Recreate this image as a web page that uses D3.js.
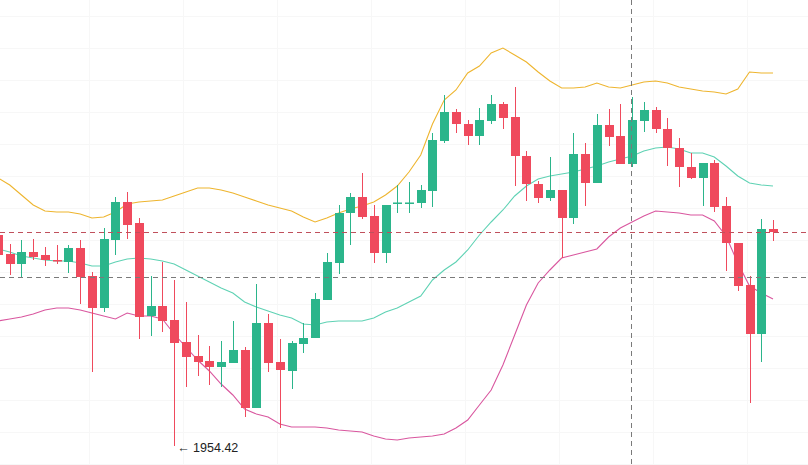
<!DOCTYPE html>
<html>
<head>
<meta charset="utf-8">
<script src="https://cdn.jsdelivr.net/npm/d3@7"></script>
<style>
  html, body { margin: 0; padding: 0; background: #ffffff; }
  svg { display: block; }
</style>
</head>
<body>
<svg id="chart" width="808" height="465"></svg>
<script>
// ---- data (prices) ----
const opens  = [2007.17,2002.42,1999.92,2002.92,2002.17,2000.92,2000.42,2003.92,1996.92,1988.92,
                2005.92,2015.42,2010.17,1986.92,1989.42,1985.92,1980.42,1976.92,1975.67,1974.17,
                1975.17,1978.42,1963.92,1985.17,1975.42,1973.17,1979.92,1981.42,1990.92,2000.17,
                2012.67,2016.67,2011.92,2002.67,2015.05,2015.05,2015.17,2018.17,2030.67,2037.92,
                2034.92,2031.92,2035.67,2039.92,2036.67,2026.92,2019.92,2016.42,2018.42,2011.42,
                2027.42,2020.17,2034.67,2031.92,2024.92,2035.67,2038.42,2033.67,2028.92,2024.17,
                2021.42,2025.17,2014.42,2005.17,1994.67,1982.42,2008.67];
const highs  = [2007.92,2004.92,2005.92,2006.17,2004.17,2004.67,2004.67,2005.92,1997.92,2008.92,
                2016.67,2017.92,2011.42,1996.92,2000.42,1995.92,1990.42,1982.17,1979.42,1980.67,
                1985.67,1979.17,1994.92,1987.42,1981.17,1980.67,1985.17,1992.67,2002.67,2014.67,
                2017.67,2022.67,2014.67,2014.67,2019.67,2020.42,2019.67,2032.67,2042.17,2038.67,
                2035.92,2038.92,2042.17,2040.42,2044.17,2028.17,2020.67,2026.67,2018.42,2032.67,
                2030.17,2037.42,2038.67,2039.92,2041.67,2040.42,2039.17,2036.42,2031.42,2027.67,
                2025.17,2025.92,2016.67,2005.17,1996.92,2011.17,2010.92];
const lows   = [2000.42,1997.17,1996.42,2000.92,1999.42,1999.92,1997.67,1989.92,1972.92,1987.92,
                2002.17,2006.17,1981.17,1981.92,1982.92,1954.42,1969.17,1971.92,1969.67,1969.17,
                1975.17,1961.67,1963.92,1972.92,1958.92,1968.67,1977.67,1981.42,1990.92,1997.42,
                2004.67,2011.17,2000.17,2000.17,2012.67,2012.67,2013.92,2014.17,2030.17,2032.67,
                2029.67,2029.67,2034.92,2033.67,2019.42,2015.67,2015.17,2015.67,2001.42,2009.92,
                2014.42,2020.17,2029.42,2024.92,2024.17,2032.92,2032.67,2024.42,2019.17,2021.17,
                2014.42,2012.92,1998.17,1993.17,1965.17,1975.42,2005.67];
const closes = [2002.17,1999.92,2002.92,2001.67,2000.92,2000.67,2003.92,1996.67,1988.92,2006.17,
                2015.42,2009.67,1986.67,1989.42,1985.67,1980.17,1976.67,1975.42,1974.17,1975.42,
                1978.42,1963.92,1985.17,1975.17,1973.42,1980.17,1981.42,1991.17,2000.42,2012.67,
                2016.67,2011.67,2002.67,2014.67,2015.30,2015.30,2018.42,2030.92,2037.92,2034.92,
                2031.92,2035.92,2039.92,2036.42,2026.92,2019.92,2016.42,2018.42,2011.42,2027.42,
                2020.17,2034.67,2031.67,2024.92,2035.92,2038.42,2033.67,2028.92,2024.17,2021.42,
                2025.17,2014.17,2005.17,1994.42,1982.42,2008.67,2007.92];

// Bollinger bands
const bollUpper = [2021.42,2019.67,2017.17,2014.67,2013.17,2012.92,2012.92,2012.42,2011.42,2011.67,
                   2012.92,2014.92,2015.42,2015.67,2015.92,2016.92,2017.92,2018.92,2018.92,2018.42,
                   2017.67,2016.67,2015.67,2014.67,2013.92,2013.17,2011.67,2010.42,2011.42,2012.67,
                   2013.67,2014.42,2015.42,2017.17,2019.42,2022.92,2027.17,2034.92,2040.92,2043.42,
                   2047.67,2049.42,2052.67,2053.92,2052.17,2050.42,2047.92,2045.67,2043.92,2043.92,
                   2044.17,2045.17,2044.17,2043.92,2044.67,2045.42,2045.67,2045.17,2044.17,2043.67,
                   2043.17,2042.92,2042.42,2043.67,2047.92,2047.67,2047.67];
const bollMid   = [2003.67,2002.92,2001.92,2001.42,2000.92,2000.67,2000.67,2000.17,1999.42,1999.42,
                   2000.42,2001.17,2001.42,2001.17,2000.67,1999.92,1998.42,1996.92,1995.42,1993.92,
                   1992.67,1990.42,1989.17,1988.17,1987.17,1986.42,1984.92,1984.67,1985.42,1985.67,
                   1985.67,1985.67,1986.42,1987.92,1988.92,1990.42,1991.92,1995.92,1998.42,2000.42,
                   2003.42,2007.17,2010.42,2013.42,2016.92,2019.42,2021.17,2021.92,2022.42,2022.92,
                   2023.67,2024.42,2025.42,2026.17,2026.92,2028.17,2028.92,2029.17,2028.67,2027.67,
                   2027.67,2026.67,2024.42,2021.92,2020.17,2019.67,2019.42];
const bollLower = [1985.67,1986.17,1986.67,1987.42,1988.42,1988.92,1988.92,1988.42,1987.67,1986.92,
                   1986.17,1987.67,1986.92,1986.92,1986.17,1982.42,1979.17,1975.92,1973.17,1969.92,
                   1967.17,1963.67,1962.42,1961.67,1959.92,1959.17,1959.17,1959.17,1958.92,1958.42,
                   1958.17,1957.92,1956.92,1956.17,1955.92,1956.42,1956.67,1956.92,1957.42,1958.92,
                   1960.92,1964.67,1968.42,1974.67,1982.17,1989.67,1995.17,1998.42,2001.42,2002.17,
                   2002.92,2003.67,2006.67,2008.92,2010.42,2011.92,2013.17,2012.92,2012.67,2012.17,
                   2012.17,2010.67,2006.92,2000.17,1994.42,1992.67,1991.17];

const gridPrices  = [2062, 2054, 2046, 2038, 2030, 2022, 2014, 2006, 1998, 1990, 1982, 1974, 1966, 1958, 1950];
const gridCandles = [8, 16, 24, 32, 40, 48, 56, 64];
const lastPrice   = 2007.92;
const crossPrice  = 1996.67;
const crossIndex  = 54;
const lowLabel    = "\u2190 1954.42";
const lowIndex    = 15;
const lowPrice    = 1954.42;

// ---- drawing ----
const W = 808, H = 465;
const idx = d3.range(opens.length);
const candles = idx.map(i => ({ i, o: opens[i], h: highs[i], l: lows[i], c: closes[i] }));

const svg = d3.select("#chart");
const x = d3.scalePoint().domain(idx).range([-2, 773]);
const step = x.step();
const y = d3.scaleLinear().domain([1949.67, 2065.92]).range([H, 0]);

const UP = "#2bb58b", DOWN = "#ef4a5d";
const bodyW = 9;

// grid (very faint)
svg.append("g").selectAll("line.h").data(gridPrices).join("line")
  .attr("x1", 0).attr("x2", W)
  .attr("y1", d => Math.round(y(d)) + 0.5).attr("y2", d => Math.round(y(d)) + 0.5)
  .attr("stroke", "#f7f7f7").attr("stroke-width", 1);
svg.append("g").selectAll("line.v").data(gridCandles).join("line")
  .attr("x1", d => Math.round(x(d) - step * 0.25) + 0.5).attr("x2", d => Math.round(x(d) - step * 0.25) + 0.5)
  .attr("y1", 0).attr("y2", H)
  .attr("stroke", "#f7f7f7").attr("stroke-width", 1);

// Bollinger lines
const lineGen = arr => d3.line().x((d, i) => x(i)).y(d => y(d)).curve(d3.curveLinear)(arr);
svg.append("path").attr("d", lineGen(bollUpper)).attr("fill", "none").attr("stroke", "#eeb52f").attr("stroke-width", 1.1);
svg.append("path").attr("d", lineGen(bollMid)).attr("fill", "none").attr("stroke", "#5fd2b4").attr("stroke-width", 1.1);
svg.append("path").attr("d", lineGen(bollLower)).attr("fill", "none").attr("stroke", "#d9579f").attr("stroke-width", 1.1);

// candles
const g = svg.append("g");
g.selectAll("line.wick").data(candles).join("line")
  .attr("x1", d => Math.round(x(d.i)) + 0.5).attr("x2", d => Math.round(x(d.i)) + 0.5)
  .attr("y1", d => y(d.h)).attr("y2", d => y(d.l))
  .attr("stroke", d => d.c >= d.o ? UP : DOWN).attr("stroke-width", 1);
g.selectAll("rect.body").data(candles).join("rect")
  .attr("x", d => Math.round(x(d.i)) + 0.5 - bodyW / 2)
  .attr("width", bodyW)
  .attr("y", d => y(Math.max(d.o, d.c)))
  .attr("height", d => Math.max(1.5, Math.abs(y(d.o) - y(d.c))))
  .attr("fill", d => d.c >= d.o ? UP : DOWN);

// last price line
svg.append("line")
  .attr("x1", 0).attr("x2", W)
  .attr("y1", Math.round(y(lastPrice)) + 0.5).attr("y2", Math.round(y(lastPrice)) + 0.5)
  .attr("stroke", "#c0505c").attr("stroke-width", 1).attr("stroke-dasharray", "5,4");

// crosshair
svg.append("line")
  .attr("x1", 0).attr("x2", W)
  .attr("y1", Math.round(y(crossPrice)) + 0.5).attr("y2", Math.round(y(crossPrice)) + 0.5)
  .attr("stroke", "#7a7a7a").attr("stroke-width", 1).attr("stroke-dasharray", "5,4");
svg.append("line")
  .attr("x1", Math.round(x(crossIndex)) - 0.5).attr("x2", Math.round(x(crossIndex)) - 0.5)
  .attr("y1", 0).attr("y2", H)
  .attr("stroke", "#7a7a7a").attr("stroke-width", 1).attr("stroke-dasharray", "5,4");

// low label
svg.append("text")
  .attr("x", x(lowIndex) + 3)
  .attr("y", y(lowPrice) + 6)
  .attr("font-family", "'Liberation Sans', Arial, sans-serif")
  .attr("font-size", 12.5)
  .attr("fill", "#222")
  .text(lowLabel);
</script>
</body>
</html>
